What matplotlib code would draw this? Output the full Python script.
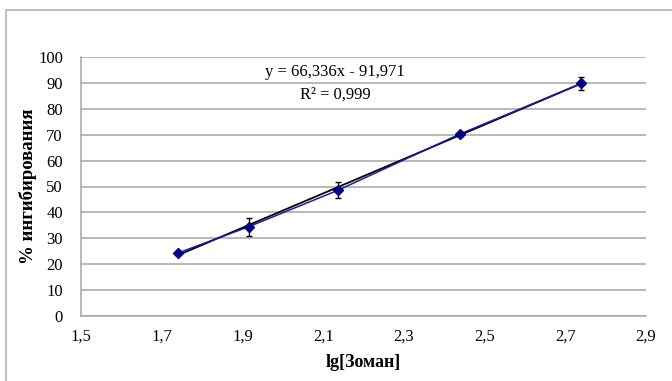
import matplotlib
matplotlib.use("Agg")
import matplotlib.pyplot as plt
import numpy as np
from matplotlib.patches import Rectangle

# data
lg_zoman = [1.74, 1.916, 2.136, 2.438, 2.74]
inhibition = [24.3, 34.5, 48.5, 70.2, 89.8]
errors = [0.5, 3.5, 3.1, 0.6, 2.5]
slope = 66.336
intercept = -91.971
x_ticks = [1.5, 1.7, 1.9, 2.1, 2.3, 2.5, 2.7, 2.9]
y_ticks = list(range(0, 101, 10))

plt.rcParams["font.family"] = ["Liberation Serif", "DejaVu Serif"]

fig = plt.figure(figsize=(6.72, 3.81), dpi=100)
# chart frame (partially cut off at right/bottom like the reference)
fig.patches.append(Rectangle((6 / 672, -0.2), 1.2, 1.2 - 10 / 381,
                             transform=fig.transFigure, fill=False,
                             edgecolor="#b4b4b4", linewidth=1.2))

ax = fig.add_axes([81 / 672, 1 - 316 / 381, (646 - 81) / 672, (316 - 57) / 381])

ax.set_xlim(1.5, 2.9)
ax.set_ylim(0, 100)
ax.set_xticks(x_ticks)
ax.set_yticks(y_ticks)
ax.set_xticklabels([f"{t:.1f}".replace(".", ",") for t in x_ticks])
ax.tick_params(length=0, labelsize=12, pad=9)
ax.tick_params(axis="y", pad=13)
ax.grid(axis="y", color="#a6a6a6", linewidth=1.1)
ax.set_axisbelow(True)
for side in ("top", "right"):
    ax.spines[side].set_visible(False)
for side in ("left", "bottom"):
    ax.spines[side].set_color("#a6a6a6")
    ax.spines[side].set_linewidth(1.1)

xs = np.array([lg_zoman[0], lg_zoman[-1]])
ax.plot(xs, slope * xs + intercept, color="black", linewidth=1.3, zorder=2)

ax.errorbar(lg_zoman, inhibition, yerr=errors, color="#1c1ca8", ecolor="black",
            elinewidth=1, capsize=2.5, capthick=1, linewidth=1.1,
            marker="D", markersize=5, markerfacecolor="#000080",
            markeredgecolor="#000080", zorder=3)

ax.text(2.13, 94.2, "y = 66,336x - 91,971", ha="center", va="center", fontsize=12)
ax.text(2.13, 85.4, "R² = 0,999", ha="center", va="center", fontsize=12)

ax.set_xlabel("lg[Зоман]", fontsize=13, fontweight="bold", labelpad=7)
ax.set_ylabel("% ингибирования", fontsize=13.5, fontweight="bold")
ax.yaxis.set_label_coords(-0.078, 0.5)

fig.savefig("out.png", dpi=100)
